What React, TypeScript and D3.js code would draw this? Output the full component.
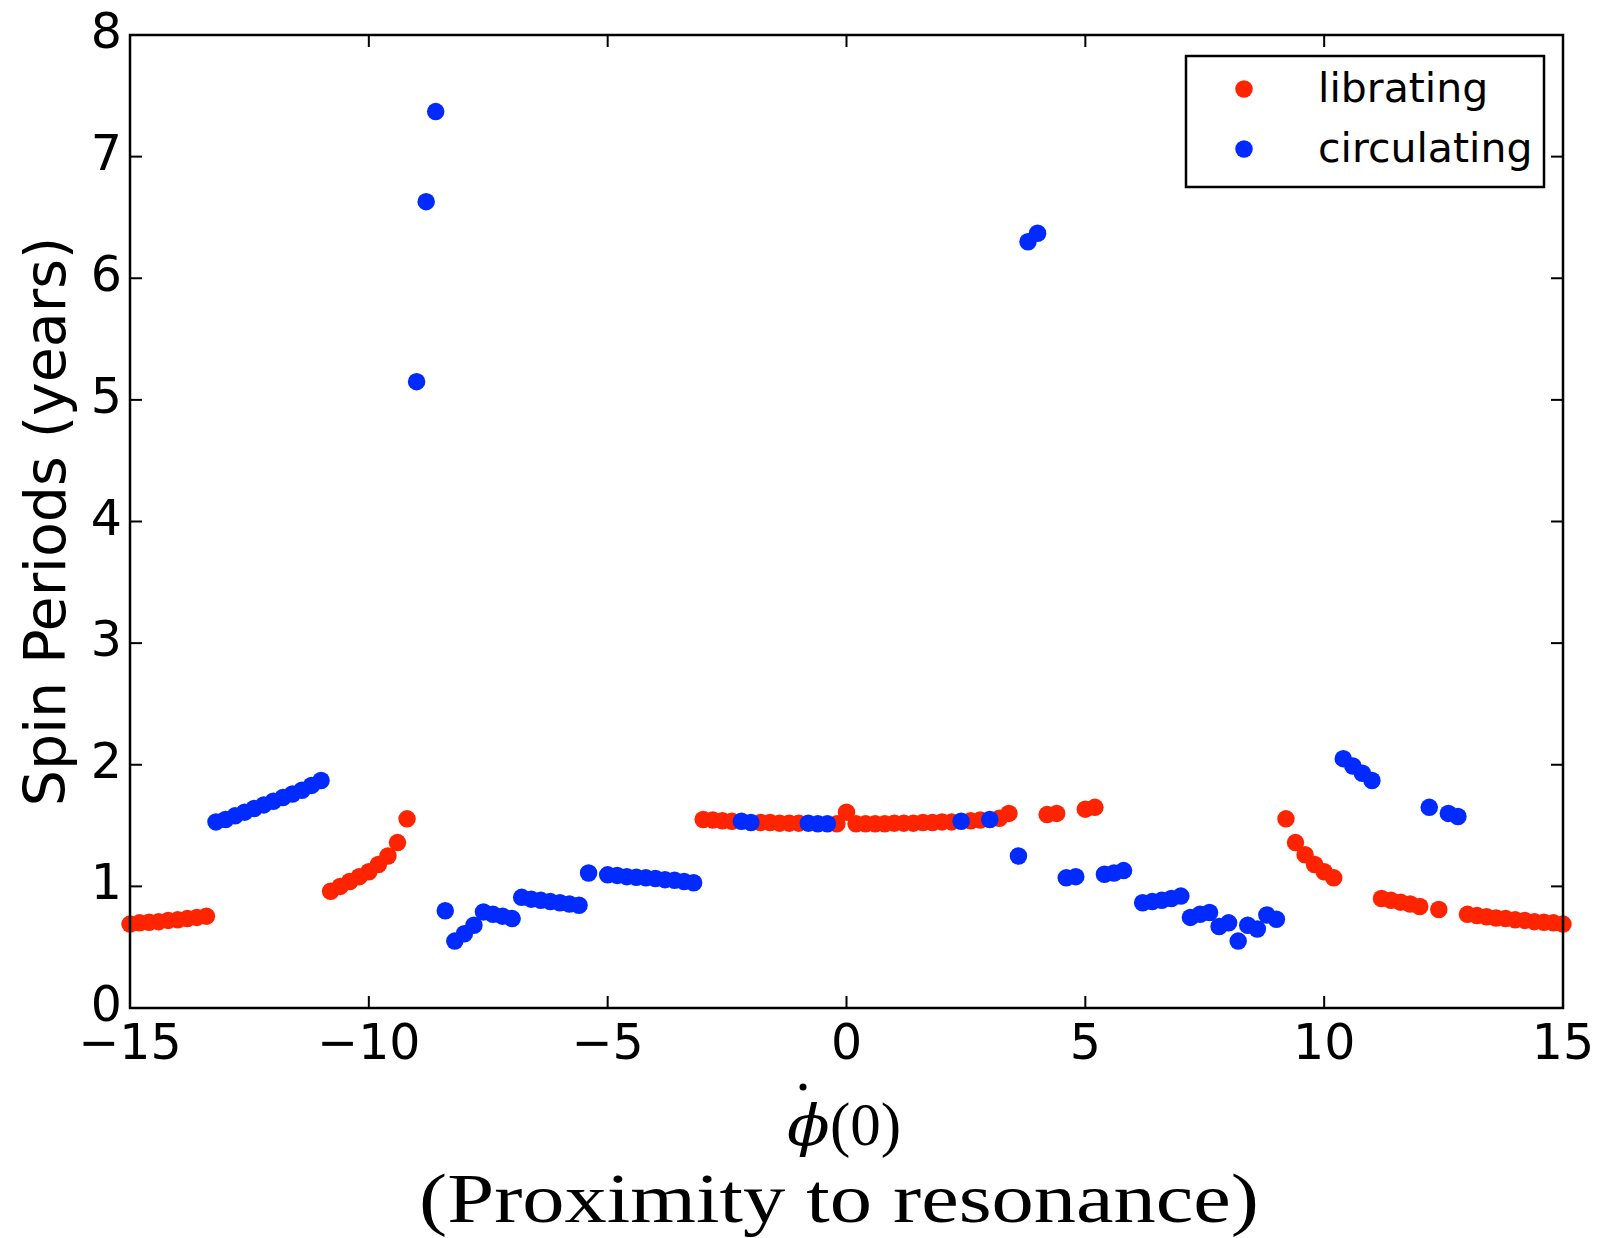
import React from "react";
import * as d3 from "d3";

// spin period vs initial phi-dot
const librX = [
  -15.0, -14.8, -14.6, -14.4, -14.2, -14.0, -13.8, -13.6, -13.4,
  -10.8, -10.6, -10.4, -10.2, -10.0, -9.8, -9.6, -9.4, -9.2,
  -3.0, -2.8, -2.6, -2.4, -1.8, -1.6, -1.4, -1.2, -1.0, -0.2, 0.0, 0.2, 0.4,
  0.6, 0.8, 1.0, 1.2, 1.4, 1.6, 1.8, 2.0, 2.2, 2.6, 2.8, 3.2, 3.4,
  4.2, 4.4, 5.0, 5.2,
  9.2, 9.4, 9.6, 9.8, 10.0, 10.2,
  11.2, 11.4, 11.6, 11.8, 12.0, 12.4,
  13.0, 13.2, 13.4, 13.6, 13.8, 14.0, 14.2, 14.4, 14.6, 14.8, 15.0,
];
const librY = [
  0.69, 0.70, 0.705, 0.71, 0.72, 0.725, 0.735, 0.745, 0.755,
  0.96, 1.0, 1.04, 1.08, 1.12, 1.18, 1.25, 1.36, 1.555,
  1.55, 1.545, 1.54, 1.535, 1.525, 1.525, 1.52, 1.52, 1.52, 1.515, 1.61, 1.515, 1.515,
  1.515, 1.515, 1.52, 1.52, 1.52, 1.525, 1.525, 1.53, 1.53, 1.54, 1.545, 1.56, 1.6,
  1.59, 1.6, 1.635, 1.65,
  1.555, 1.36, 1.26, 1.18, 1.12, 1.07,
  0.9, 0.885, 0.87, 0.855, 0.835, 0.81,
  0.77, 0.76, 0.75, 0.74, 0.735, 0.725, 0.72, 0.71, 0.705, 0.7, 0.69,
];

const circX = [
  -13.2, -13.0, -12.8, -12.6, -12.4, -12.2, -12.0, -11.8, -11.6, -11.4, -11.2, -11.0,
  -9.0, -8.8, -8.6, -8.4, -8.2, -8.0, -7.8, -7.6, -7.4, -7.2, -7.0,
  -6.8, -6.6, -6.4, -6.2, -6.0, -5.8, -5.6, -5.4,
  -5.0, -4.8, -4.6, -4.4, -4.2, -4.0, -3.8, -3.6, -3.4, -3.2,
  -2.2, -2.0, -0.8, -0.6, -0.4, 2.4, 3.0,
  3.6, 3.8, 4.0, 4.6, 4.8, 5.4, 5.6, 5.8,
  6.2, 6.4, 6.6, 6.8, 7.0, 7.2, 7.4, 7.6, 7.8, 8.0, 8.2, 8.4, 8.6, 8.8, 9.0,
  10.4, 10.6, 10.8, 11.0, 12.2, 12.6, 12.8,
];
const circY = [
  1.53, 1.55, 1.58, 1.61, 1.64, 1.67, 1.7, 1.73, 1.76, 1.79, 1.83, 1.87,
  5.15, 6.63, 7.37, 0.8, 0.55, 0.61, 0.68, 0.79, 0.77, 0.755, 0.735,
  0.91, 0.895, 0.885, 0.875, 0.865, 0.855, 0.845, 1.11,
  1.095, 1.09, 1.08, 1.075, 1.07, 1.065, 1.055, 1.05, 1.04, 1.03,
  1.535, 1.525, 1.52, 1.515, 1.515, 1.535, 1.55,
  1.25, 6.3, 6.37, 1.07, 1.08, 1.1, 1.11, 1.13,
  0.865, 0.875, 0.885, 0.9, 0.92, 0.745, 0.77, 0.785, 0.67, 0.7, 0.55, 0.68, 0.65, 0.765, 0.73,
  2.05, 1.99, 1.93, 1.87, 1.65, 1.6, 1.575,
];

const xTicks = [-15, -10, -5, 0, 5, 10, 15];
const yTicks = [0, 1, 2, 3, 4, 5, 6, 7, 8];
const seriesNames = ["librating", "circulating"];
const seriesColors = ["#ff2400", "#002aff"];

const W = 1603;
const H = 1238;
const margin = { left: 130, right: 40, top: 35, bottom: 230 };
const SANS = "DejaVu Sans, Verdana, sans-serif";
const SERIF = "Liberation Serif, Times New Roman, serif";

const fmt = (d: number) => (d < 0 ? "\u2212" + Math.abs(d) : String(d));

export default function App() {
  const x = d3.scaleLinear().domain([-15, 15]).range([margin.left, W - margin.right]);
  const y = d3.scaleLinear().domain([0, 8]).range([H - margin.bottom, margin.top]);
  const [x0, x1] = x.range();
  const [y0, y1] = y.range();
  const tick = 12;
  const r = 8.75;

  const libr = librX.map((v, i) => [v, librY[i]]);
  const circ = circX.map((v, i) => [v, circY[i]]);

  return (
    <div style={{ position: "absolute", left: 0, top: 0 }}>
      <svg width={W} height={H} style={{ display: "block", background: "#fff" }}>
        {/* data */}
        <g fill={seriesColors[0]}>
          {libr.map((d, i) => (
            <circle key={"l" + i} cx={x(d[0])} cy={y(d[1])} r={r} />
          ))}
        </g>
        <g fill={seriesColors[1]}>
          {circ.map((d, i) => (
            <circle key={"c" + i} cx={x(d[0])} cy={y(d[1])} r={r} />
          ))}
        </g>

        {/* ticks, inward on all four sides */}
        <g stroke="#000" strokeWidth={2}>
          {xTicks.map((t) => (
            <g key={"xt" + t}>
              <line x1={x(t)} x2={x(t)} y1={y0} y2={y0 - tick} />
              <line x1={x(t)} x2={x(t)} y1={y1} y2={y1 + tick} />
            </g>
          ))}
          {yTicks.map((t) => (
            <g key={"yt" + t}>
              <line x1={x0} x2={x0 + tick} y1={y(t)} y2={y(t)} />
              <line x1={x1} x2={x1 - tick} y1={y(t)} y2={y(t)} />
            </g>
          ))}
        </g>
        <rect x={x0} y={y1} width={x1 - x0} height={y0 - y1} fill="none" stroke="#000" strokeWidth={2.5} />

        {/* tick labels */}
        <g fontFamily={SANS} fontSize={49} fill="#000">
          {xTicks.map((t) => (
            <text key={"xl" + t} x={x(t)} y={y0 + 51} textAnchor="middle">
              {fmt(t)}
            </text>
          ))}
          {yTicks.map((t) => (
            <text key={"yl" + t} x={x0 - 8} y={y(t) + 13} textAnchor="end">
              {fmt(t)}
            </text>
          ))}
        </g>

        {/* y label */}
        <text
          transform={`translate(65, ${(y0 + y1) / 2}) rotate(-90)`}
          textAnchor="middle"
          fontFamily={SANS}
          fontSize={57}
          fill="#000"
        >
          Spin Periods (years)
        </text>

        {/* x label */}
        <circle cx={803} cy={1087} r={3.5} fill="#000" />
        <text
          transform="translate(787, 1145) scale(1.12, 1)"
          fontSize={56}
          fontFamily="DejaVu Serif, serif"
          fontStyle="italic"
          fill="#000"
        >
          {"\u03d5"}
        </text>
        <text x={830} y={1145} fontSize={61} fontFamily={SERIF} fill="#000">
          (0)
        </text>
        <text
          x={839}
          y={1222}
          textAnchor="middle"
          fontFamily={SERIF}
          fontSize={70}
          textLength={840}
          lengthAdjust="spacingAndGlyphs"
          fill="#000"
        >
          (Proximity to resonance)
        </text>

        {/* legend */}
        <g>
          <rect x={1186} y={56} width={358} height={131} fill="#fff" stroke="#000" strokeWidth={2.5} />
          {seriesNames.map((name, i) => (
            <g key={name}>
              <circle cx={1244} cy={89 + i * 60} r={r} fill={seriesColors[i]} />
              <text x={1318} y={102 + i * 60} fontFamily={SANS} fontSize={41} fill="#000">
                {name}
              </text>
            </g>
          ))}
        </g>
      </svg>
    </div>
  );
}
